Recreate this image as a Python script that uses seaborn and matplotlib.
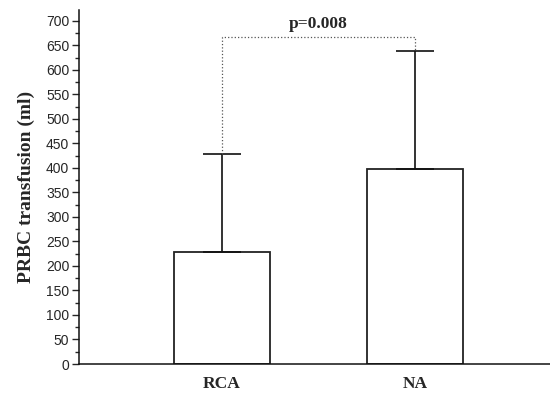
import pandas as pd
import numpy as np
import matplotlib
matplotlib.use('Agg')
import matplotlib.pyplot as plt
from matplotlib.ticker import MultipleLocator
import seaborn as sns

# Values
groups = ['RCA', 'NA']
means = [228, 397]
upper_err = [201, 242]   # mean + err -> 429, 639
bracket_y = 666
p_label = 'p=0.008'

df = pd.DataFrame({'group': groups, 'PRBC': means})

sns.set_style('ticks')
plt.rcParams['font.family'] = ['Liberation Sans', 'DejaVu Sans']

fig = plt.figure(figsize=(5.5, 3.97), dpi=100)
ax = fig.add_axes([79 / 550, 33 / 397, 1 - 79 / 550, (364 - 10) / 397])

sns.barplot(data=df, x='group', y='PRBC', order=groups, color='white',
            edgecolor='#222222', linewidth=1.3, width=0.5, errorbar=None, ax=ax)

# upper-only error bars
ax.errorbar(x=np.arange(len(groups)), y=means,
            yerr=[np.zeros(len(groups)), upper_err],
            fmt='none', ecolor='#111111', elinewidth=1.2, capsize=14, capthick=1.2)

# significance bracket
tops = [m + e for m, e in zip(means, upper_err)]
ax.plot([0, 0, 1, 1], [tops[0], bracket_y, bracket_y, tops[1]],
        color='#555555', linestyle=':', linewidth=0.9)
ax.text(0.5, bracket_y + 12, p_label, ha='center', va='bottom',
        fontsize=12.5, fontweight='bold', family=['Liberation Serif'])

ax.set_xlim(-0.74, 1.70)
ax.set_ylim(0, 722)
ax.yaxis.set_major_locator(MultipleLocator(50))
ax.yaxis.set_minor_locator(MultipleLocator(25))
ax.tick_params(axis='y', which='major', length=5, width=1, labelsize=10, pad=2)
ax.tick_params(axis='y', which='minor', length=3, width=1)
ax.tick_params(axis='x', length=0, pad=9)
for lbl in ax.get_xticklabels():
    lbl.set_fontfamily(['Liberation Serif'])
    lbl.set_fontweight('bold')
    lbl.set_fontsize(12.5)

ax.set_xlabel('')
ax.set_ylabel('PRBC transfusion (ml)', fontsize=14, fontweight='bold',
              family=['Liberation Serif'], labelpad=8)

sns.despine(ax=ax)
for s in ['left', 'bottom']:
    ax.spines[s].set_linewidth(1.1)
    ax.spines[s].set_color('#111111')

fig.savefig('out.png', dpi=100)
